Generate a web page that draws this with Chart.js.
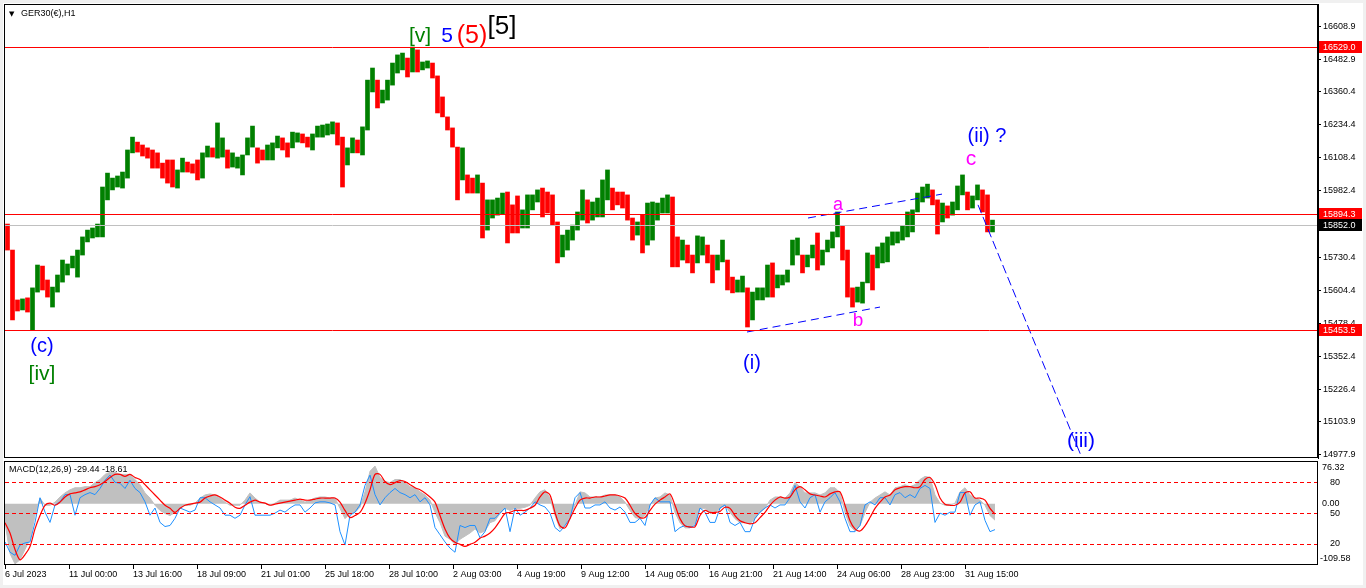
<!DOCTYPE html>
<html><head><meta charset="utf-8">
<script src="https://cdn.jsdelivr.net/npm/chart.js@4.4.0/dist/chart.umd.min.js"></script>
<style>
html,body{margin:0;padding:0;background:#f0f0f0;width:1366px;height:588px;overflow:hidden;}
#frame{position:absolute;left:3px;top:3px;width:1360px;height:582px;background:#ffffff;}
#c1{position:absolute;left:0;top:0;width:1366px;height:460px;}
#c2{position:absolute;left:0;top:458px;width:1366px;height:127px;}
</style></head><body>
<div id="frame"></div>
<canvas id="c1" width="1366" height="460"></canvas>
<canvas id="c2" width="1366" height="127"></canvas>
<script>
// ---------- DATA ----------
const symbolTitle = "GER30(€),H1";
const macdTitle = "MACD(12,26,9) -29.44 -18.61";

// price bars (one bar per 5 hourly bars), high / low / close
const priceHigh = [15856,15757,15567,15571,15575,15613,15700,15696,15643,15616,15662,15719,15704,15734,15757,15807,15833,15841,15856,15997,
16050,16031,16039,16054,16138,16187,16168,16157,16146,16138,16127,16088,16100,16100,16062,16107,16092,16085,16100,16127,
16153,16146,16241,16184,16138,16127,16111,16119,16184,16229,16146,16138,16157,16165,16191,16184,16165,16206,16203,16199,
16187,16199,16229,16233,16237,16245,16241,16187,16146,16184,16176,16226,16404,16450,16404,16366,16404,16469,16500,16507,
16488,16530,16519,16473,16477,16469,16420,16340,16264,16222,16149,16146,16043,16031,16043,16012,15948,15948,15955,15974,
15978,15929,15963,15910,15967,15967,15986,15993,15978,15967,15864,15814,15833,15852,15902,15986,15948,15940,15955,16024,
16062,15993,15978,15978,15967,15879,15864,15890,15936,15940,15936,15955,15967,15959,15807,15795,15776,15738,15811,15807,
15776,15738,15738,15795,15719,15654,15643,15658,15613,15597,15613,15613,15700,15708,15662,15662,15681,15795,15803,15738,
15738,15776,15822,15757,15795,15826,15902,15849,15757,15613,15616,15635,15746,15738,15769,15784,15807,15826,15826,15849,
15902,15910,15974,15997,16008,15986,15948,15936,15925,15940,16001,16043,15978,15963,16005,15986,15967,15871];
const priceLow = [15757,15491,15525,15529,15521,15453,15597,15605,15578,15540,15597,15635,15662,15689,15654,15738,15788,15803,15807,15807,
15948,15986,15997,15993,16031,16127,16130,16115,16107,16069,16069,16031,16012,15997,15993,16054,16054,16050,16024,16031,
16111,16111,16107,16111,16069,16073,16069,16043,16119,16149,16088,16100,16100,16100,16146,16138,16111,16146,16168,16165,
16149,16138,16187,16187,16195,16199,16157,15997,16081,16127,16127,16119,16214,16359,16298,16317,16328,16385,16431,16443,
16416,16435,16435,16443,16450,16412,16279,16264,16214,16149,15948,16024,15974,15974,15974,15803,15833,15879,15890,15894,
15784,15822,15822,15841,15841,15910,15940,15883,15898,15852,15708,15731,15757,15795,15833,15871,15860,15871,15883,15883,
15948,15910,15929,15917,15871,15795,15814,15746,15776,15795,15871,15898,15898,15693,15693,15719,15708,15670,15708,15738,
15708,15632,15681,15712,15605,15594,15597,15597,15464,15491,15567,15567,15578,15578,15613,15624,15635,15700,15738,15670,
15693,15727,15681,15700,15750,15765,15807,15719,15578,15540,15559,15555,15632,15605,15689,15708,15712,15776,15784,15795,
15807,15826,15902,15940,15955,15929,15818,15864,15879,15890,15910,15967,15910,15917,15948,15902,15826,15826];
const priceClose = [15765,15548,15544,15555,15548,15597,15662,15635,15597,15605,15643,15681,15689,15712,15738,15795,15814,15826,15841,15967,
16005,16012,16024,16024,16119,16157,16146,16138,16130,16100,16088,16054,16043,16024,16043,16088,16073,16069,16062,16107,
16138,16130,16138,16138,16100,16100,16100,16107,16157,16176,16130,16119,16138,16138,16176,16157,16138,16184,16187,16184,
16165,16176,16214,16214,16222,16229,16176,16081,16130,16157,16146,16195,16347,16385,16328,16336,16374,16443,16473,16481,
16443,16500,16462,16462,16465,16435,16309,16290,16233,16176,16024,16081,16005,15993,16005,15871,15910,15910,15917,15929,
15910,15890,15871,15890,15929,15948,15967,15948,15929,15890,15757,15776,15803,15833,15879,15948,15910,15917,15929,15967,
15986,15967,15955,15948,15910,15833,15841,15795,15890,15910,15910,15936,15948,15776,15757,15765,15738,15700,15776,15776,
15738,15681,15712,15757,15662,15624,15624,15635,15548,15567,15590,15594,15662,15624,15635,15643,15662,15757,15776,15700,
15719,15757,15738,15738,15776,15807,15864,15757,15605,15575,15586,15624,15700,15681,15738,15757,15776,15803,15811,15826,
15852,15890,15955,15978,15986,15948,15890,15910,15902,15921,15978,16005,15948,15948,15986,15929,15852,15852];

// price axis tick labels
const priceTicks = [16608.9,16482.9,16360.4,16234.4,16108.4,15982.4,15730.4,15604.4,15478.4,15352.4,15226.4,15103.9,14977.9];
// horizontal levels
const redLevels = [16529.0, 15894.3, 15453.5];
const currentPrice = 15852.0;

// dashed wave trendlines [index, price]
const trendUpper = [[803,15879],[937,15970]];
const trendLower = [[742,15445],[875,15540]];
const trendProjection = [[973,15929],[1077,14965]];

// Elliott-wave labels
const waveTexts  = ["[v]","5","(5)","[5]","(c)","[iv]","(i)","a","b","c","(ii) ?","(iii)"];
const waveIdx    = [415,442,467,497,37,37,747,833,853,966,982,1076];
const wavePrice  = [16570,16572,16572,16606,15389,15285,15325,15930,15487,16103,16188,15028];
const waveColors = ["#008000","#0000ff","#ff0000","#000000","#0000ff","#008000","#0000ff","#ff00ff","#ff00ff","#ff00ff","#0000ff","#0000ff"];
const waveSizes  = [21,21,25,26,20,21,20,18,19,21,20,21];

// time axis
const xTickIdx = [0,64,128,192,256,320,384,448,512,576,640,704,768,832,896,960];
const xTickLabels = ["6 Jul 2023","11 Jul 00:00","13 Jul 16:00","18 Jul 09:00","21 Jul 01:00","25 Jul 18:00","28 Jul 10:00",
"2 Aug 03:00","4 Aug 19:00","9 Aug 12:00","14 Aug 05:00","16 Aug 21:00","21 Aug 14:00","24 Aug 06:00","28 Aug 23:00","31 Aug 15:00"];

// MACD panel (one value per 5 hourly bars)
const macdHist = [-34.0,-89.2,-107.6,-100.3,-81.9,-63.5,-21.2,10.1,-2.8,-2.8,2.8,12.0,19.3,24.8,28.5,28.5,30.4,30.4,37.7,43.2,
52.4,56.1,56.1,52.4,52.4,52.4,43.2,34.0,19.3,10.1,-2.8,-12.0,-17.5,-21.2,-15.6,-8.3,-2.8,-2.8,0.9,10.1,
15.6,17.5,15.6,10.1,2.8,-2.8,-2.8,-2.8,6.4,19.3,10.1,2.8,0.9,-2.8,0.9,6.4,6.4,6.4,10.1,6.4,
2.8,6.4,10.1,12.0,12.0,10.1,10.1,-8.3,-26.7,-17.5,-15.6,-6.4,21.2,58.0,67.2,46.9,39.6,37.7,43.2,43.2,
37.7,30.4,28.5,21.2,15.6,6.4,-15.6,-34.0,-58.0,-63.5,-72.7,-63.5,-58.0,-52.4,-45.1,-52.4,-48.8,-34.0,-30.4,-17.5,
-8.3,-12.0,-8.3,-8.3,-6.4,-2.8,10.1,21.2,24.8,10.1,-21.2,-45.1,-39.6,-21.2,-2.8,21.2,19.3,12.0,12.0,12.0,
15.6,15.6,15.6,12.0,2.8,-12.0,-24.8,-26.7,-21.2,-2.8,10.1,12.0,19.3,15.6,-15.6,-34.0,-43.2,-43.2,-35.9,-8.3,
-8.3,-17.5,-15.6,-8.3,-2.8,-15.6,-26.7,-34.0,-34.0,-35.9,-26.7,-15.6,-8.3,6.4,12.0,12.0,10.1,19.3,37.7,30.4,
19.3,19.3,19.3,15.6,19.3,28.5,28.5,19.3,-15.6,-39.6,-48.8,-39.6,-15.6,2.8,10.1,15.6,21.2,15.6,28.5,30.4,
34.0,30.4,34.0,43.2,48.8,46.9,15.6,0.9,-2.8,-2.8,0.9,21.2,28.5,15.6,10.1,6.4,-2.8,-21.2,-29.44];
const macdSignal = [-34.0,-52.4,-81.9,-100.3,-91.1,-76.4,-45.1,-21.2,-2.8,0.9,-2.8,2.8,12.0,17.5,19.3,21.2,24.8,28.5,30.4,34.0,
39.6,46.9,52.4,52.4,48.8,52.4,46.9,43.2,34.0,24.8,15.6,6.4,-2.8,-8.3,-15.6,-8.3,-2.8,-0.9,0.9,2.8,
10.1,13.8,15.6,12.0,6.4,0.9,-6.4,-8.3,-2.8,2.8,6.4,2.8,0.9,-2.8,-0.9,0.9,2.8,4.6,6.4,8.3,
6.4,6.4,8.3,10.1,10.1,10.1,10.1,2.8,-12.0,-24.8,-21.2,-15.6,0.9,24.8,52.4,52.4,39.6,34.0,37.7,41.4,
39.6,34.0,28.5,24.8,19.3,12.0,2.8,-21.2,-45.1,-61.6,-69.0,-72.7,-76.4,-72.7,-69.0,-61.6,-58.0,-52.4,-43.2,-30.4,
-17.5,-15.6,-12.0,-12.0,-12.0,-8.3,-2.8,12.0,21.2,15.6,-15.6,-39.6,-43.2,-26.7,-8.3,6.4,10.1,10.1,12.0,12.0,
13.8,15.6,15.6,13.8,10.1,-2.8,-17.5,-24.8,-24.8,-12.0,-0.9,6.4,12.0,17.5,-2.8,-26.7,-39.6,-41.4,-41.4,-21.2,
-12.0,-15.6,-15.6,-13.8,-6.4,-8.3,-21.2,-30.4,-34.0,-35.9,-34.0,-24.8,-15.6,-2.8,6.4,12.0,10.1,12.0,24.8,30.4,
24.8,17.5,15.6,13.8,12.0,17.5,21.2,21.2,-2.8,-30.4,-45.1,-48.8,-39.6,-24.8,-8.3,2.8,12.0,15.6,24.8,28.5,
30.4,30.4,28.5,30.4,43.2,46.9,34.0,10.1,-0.9,-2.8,-2.8,2.8,19.3,21.2,10.1,10.1,6.4,-8.3,-18.61];
const oscLine = [22,12,9,19,21,22,41,65,51,41,58,61,68,68,48,65,68,70,68,74,
82,87,80,79,74,82,74,70,61,48,55,41,37,38,45,55,53,51,53,65,
65,61,58,55,48,48,45,48,58,66,48,48,48,48,50,53,51,55,58,58,
51,55,60,61,61,60,58,32,19,48,51,58,77,87,68,58,65,70,74,70,
68,65,68,61,65,58,36,29,22,16,12,38,36,38,38,26,32,45,45,50,
55,32,55,48,51,55,61,58,56,50,36,32,38,45,65,70,55,55,58,58,
61,55,53,56,51,41,41,45,38,58,65,61,61,61,32,36,38,36,38,55,
51,41,41,55,58,41,38,41,32,32,45,51,55,58,55,58,58,65,77,61,
55,65,68,51,61,65,70,61,45,32,32,38,58,61,58,65,65,58,68,70,
65,68,65,74,77,74,41,50,48,51,51,70,70,48,58,61,43,32,34];
const oscLevels = [80, 50, 20];
const macdScaleLabels = ["76.32", "0.00", "-109.58"];
const macdMax = 76.32, macdMin = -109.58;

// ---------- HELPERS ----------
const FONT = '"Liberation Sans", Arial, sans-serif';
const GREEN = '#008000', RED = '#ff0000';

const barData = priceHigh.map((h, i) => ({x: 2.5 + 5 * i, y: [priceLow[i], h]}));
const barColors = priceClose.map((c, i) => {
  const open = i === 0 ? priceHigh[0] : priceClose[i - 1];
  return c >= open ? GREEN : RED;
});
const toPts = arr => arr.map(p => ({x: p[0], y: p[1]}));

const framePlugin = {
  id: 'frame',
  afterDraw(chart) {
    const {ctx, chartArea: a} = chart;
    ctx.save();
    ctx.setLineDash([]);
    ctx.strokeStyle = '#000';
    ctx.lineWidth = 1;
    ctx.strokeRect(Math.round(a.left) + 0.5, Math.round(a.top) + 0.5, Math.round(a.right - a.left) - 1, Math.round(a.bottom - a.top) - 1);
    ctx.restore();
  }
};

const pricePlugin = {
  id: 'priceDecor',
  afterDatasetsDraw(chart) {
    const {ctx, chartArea: a, scales: {x, y}} = chart;
    ctx.save();
    ctx.setLineDash([]);
    ctx.lineWidth = 1;
    ctx.strokeStyle = '#c0c0c0';
    const py = Math.round(y.getPixelForValue(currentPrice)) + 0.5;
    ctx.beginPath(); ctx.moveTo(a.left, py); ctx.lineTo(a.right, py); ctx.stroke();
    ctx.strokeStyle = RED;
    redLevels.forEach(v => {
      const yy = Math.round(y.getPixelForValue(v)) + 0.5;
      ctx.beginPath(); ctx.moveTo(a.left, yy); ctx.lineTo(a.right, yy); ctx.stroke();
    });
    ctx.beginPath(); ctx.rect(a.left, a.top, a.right - a.left, a.bottom - a.top); ctx.clip();
    ctx.textAlign = 'center';
    ctx.textBaseline = 'middle';
    waveTexts.forEach((t, i) => {
      ctx.font = waveSizes[i] + 'px ' + FONT;
      ctx.fillStyle = waveColors[i];
      ctx.fillText(t, x.getPixelForValue(waveIdx[i]), y.getPixelForValue(wavePrice[i]));
    });
    ctx.restore();
  },
  afterDraw(chart) {
    const {ctx, chartArea: a, scales: {y}} = chart;
    ctx.save();
    ctx.font = '9px ' + FONT;
    ctx.textBaseline = 'middle';
    ctx.textAlign = 'left';
    const box = (v, bg) => {
      const yy = Math.round(y.getPixelForValue(v));
      ctx.fillStyle = bg;
      ctx.fillRect(a.right + 1, yy - 6, 43, 12);
      ctx.fillStyle = '#ffffff';
      ctx.fillText(v.toFixed(1), a.right + 5, yy + 0.5);
    };
    redLevels.forEach(v => box(v, RED));
    box(currentPrice, '#000000');
    ctx.fillStyle = '#000';
    ctx.font = '7px "DejaVu Sans", sans-serif';
    ctx.fillText('▼', a.left + 5, a.top + 10);
    ctx.font = '9px ' + FONT;
    ctx.fillText(symbolTitle, a.left + 17, a.top + 10);
    ctx.restore();
  }
};

const macdPlugin = {
  id: 'macdDecor',
  afterDraw(chart) {
    const {ctx, chartArea: a, scales: {yM, yS}} = chart;
    ctx.save();
    ctx.globalAlpha = 1;
    ctx.strokeStyle = '#ff0000';
    ctx.lineWidth = 1;
    ctx.setLineDash([4, 3]);
    oscLevels.forEach(v => {
      const yy = Math.round(yS.getPixelForValue(v)) + 0.5;
      ctx.beginPath(); ctx.moveTo(a.left + 1, yy); ctx.lineTo(a.right - 1, yy); ctx.stroke();
    });
    ctx.setLineDash([]);
    ctx.fillStyle = '#000';
    ctx.font = '9px ' + FONT;
    ctx.textBaseline = 'middle';
    ctx.textAlign = 'left';
    ctx.fillText(macdScaleLabels[0], a.right + 4, yM.getPixelForValue(macdMax) + 7);
    ctx.fillText(macdScaleLabels[1], a.right + 4, yM.getPixelForValue(0));
    ctx.fillText(macdScaleLabels[2], a.right + 2, yM.getPixelForValue(macdMin) - 6);
    ctx.fillText(macdTitle, a.left + 5, a.top + 9);
    ctx.restore();
  }
};

// ---------- PRICE CHART ----------
new Chart(document.getElementById('c1'), {
  type: 'bar',
  data: {
    datasets: [
      {type: 'bar', data: barData, backgroundColor: barColors, borderWidth: 0, barThickness: 4, grouped: false, order: 3},
      {type: 'line', data: toPts(trendUpper), borderColor: '#0000ff', borderWidth: 1, borderDash: [8, 5], pointRadius: 0, order: 1},
      {type: 'line', data: toPts(trendLower), borderColor: '#0000ff', borderWidth: 1, borderDash: [8, 5], pointRadius: 0, order: 1},
      {type: 'line', data: toPts(trendProjection), borderColor: '#0000ff', borderWidth: 1, borderDash: [9, 4], pointRadius: 0, order: 1}
    ]
  },
  options: {
    responsive: false, animation: false, events: [],
    layout: {padding: {left: 4, top: 4, bottom: 2, right: 0}},
    plugins: {legend: {display: false}, tooltip: {enabled: false}},
    scales: {
      x: {type: 'linear', min: -1, max: 1313, display: false, offset: false, grid: {offset: false}},
      y: {
        position: 'right', min: 14965.3, max: 16693.8,
        afterFit(s) { s.width = 48; s.paddingTop = 0; s.paddingBottom = 0; },
        afterBuildTicks(s) { s.ticks = priceTicks.map(v => ({value: v})); },
        ticks: {callback: v => Number(v).toFixed(1), font: {family: FONT, size: 9}, color: '#000', padding: 2, autoSkip: false},
        grid: {drawOnChartArea: false, drawTicks: true, tickLength: 3, color: '#000'},
        border: {display: true, color: '#000'}
      }
    }
  },
  plugins: [framePlugin, pricePlugin]
});

// ---------- MACD CHART ----------
const idx5 = macdHist.map((_, k) => 5 * k);
new Chart(document.getElementById('c2'), {
  type: 'line',
  data: {
    datasets: [
      {data: macdHist.map((v, k) => ({x: idx5[k], y: v})), yAxisID: 'yM', borderWidth: 1, borderColor: '#c0c0c0', backgroundColor: '#c0c0c0', fill: 'origin', pointRadius: 0, tension: 0, order: 3},
      {data: oscLine.map((v, k) => ({x: idx5[k], y: v})), yAxisID: 'yS', borderWidth: 1, borderColor: '#1e90ff', fill: false, pointRadius: 0, tension: 0, order: 2},
      {data: macdSignal.map((v, k) => ({x: idx5[k], y: v})), yAxisID: 'yM', borderWidth: 1.2, borderColor: RED, fill: false, pointRadius: 0, tension: 0.3, order: 1}
    ]
  },
  options: {
    responsive: false, animation: false, events: [],
    layout: {padding: {left: 4, top: 3, bottom: 0, right: 0}},
    plugins: {legend: {display: false}, tooltip: {enabled: false}},
    scales: {
      x: {
        type: 'linear', min: -1, max: 1313, offset: false,
        afterFit(s) { s.height = 20; s.paddingLeft = 0; s.paddingRight = 0; },
        afterBuildTicks(s) { s.ticks = xTickIdx.map(v => ({value: v})); },
        ticks: {callback: (v, i) => xTickLabels[i], align: 'start', padding: 0, autoSkip: false, maxRotation: 0, minRotation: 0, font: {family: FONT, size: 9}, color: '#000'},
        grid: {drawOnChartArea: false, drawTicks: true, tickLength: 4, color: '#000', offset: false},
        border: {display: false}
      },
      yM: {position: 'right', display: false, min: macdMin, max: macdMax},
      yS: {
        position: 'right', min: -0.4, max: 100.7,
        afterFit(s) { s.width = 48; s.paddingTop = 0; s.paddingBottom = 0; },
        afterBuildTicks(s) { s.ticks = oscLevels.map(v => ({value: v})); },
        ticks: {callback: v => String(v), font: {family: FONT, size: 9}, color: '#000', padding: 4, autoSkip: false},
        grid: {display: false},
        border: {display: false}
      }
    }
  },
  plugins: [framePlugin, macdPlugin]
});
</script>
</body></html>
